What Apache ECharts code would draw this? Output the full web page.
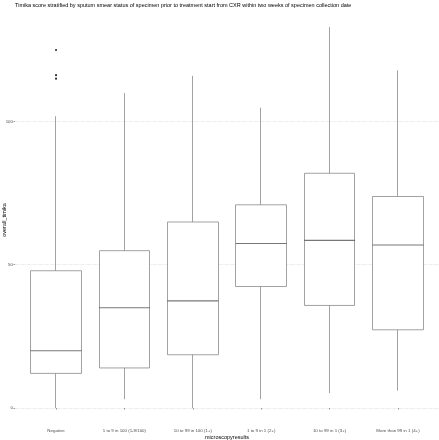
<!DOCTYPE html>
<html>
<head>
<meta charset="utf-8">
<script src="https://cdn.jsdelivr.net/npm/echarts@6/dist/echarts.min.js"></script>
<style>
    html, body { margin: 0; padding: 0; background: #fff; }
    .box { width: 439px; height: 440px; }
</style>
</head>
<body>
<div class="box"></div>
<script>
// 数据
var categories = ['Negative', '1 to 9 in 100 (1-9/100)', '10 to 99 in 100 (1+)', '1 to 9 in 1 (2+)', '10 to 99 in 1 (3+)', 'More than 99 in 1 (4+)'];
var whiskerLow = [0, 3.1, 0, 3.1, 5.2, 6.1];
var q1 = [12.1, 14.0, 18.6, 42.4, 35.8, 27.3];
var median = [20.0, 35.0, 37.4, 57.4, 58.5, 56.9];
var q3 = [47.9, 54.9, 64.9, 70.9, 81.9, 73.8];
var whiskerHigh = [101.8, 109.9, 115.9, 104.8, 132.9, 117.8];
var outlierCat = [0, 0, 0];
var outlierVal = [124.9, 116.1, 114.9];
var yTicks = [0, 50, 100];

(function () {
    var myChart = echarts.init(document.querySelector('.box'));
    var font = 'Liberation Sans';
    // 类目位置 1..6
    var pos = categories.map(function (c, i) { return i + 1; });
    // 箱体用 candlestick 画（没有须线端帽）: [x, open, close, low, high]
    var boxData = categories.map(function (c, i) {
        return [pos[i], q1[i], q3[i], whiskerLow[i], whiskerHigh[i]];
    });
    var medData = categories.map(function (c, i) { return [pos[i], median[i]]; });
    var outData = outlierCat.map(function (c, i) { return [pos[c], outlierVal[i]]; });

    var option = {
        animation: false,
        title: {
            text: 'Timika score stratified by sputum smear status of specimen prior to treatment start from CXR within two weeks of specimen collection date',
            left: 15,
            top: 2,
            padding: 0,
            textStyle: { fontFamily: font, fontSize: 5.5, fontWeight: 'normal', color: '#000' }
        },
        // 不让 v6 自动收缩网格
        grid: { left: 15, right: 0, top: 13, bottom: 13, outerBoundsMode: 'none' },
        xAxis: {
            type: 'value',
            min: 0.4,
            max: 6.6,
            name: 'microscopyresults',
            nameLocation: 'middle',
            nameGap: 7,
            nameMoveOverlap: false,
            nameTextStyle: { fontFamily: font, fontSize: 5.5, color: '#000' },
            axisLine: { show: false },
            axisTick: { show: true, length: 1.5, customValues: pos, lineStyle: { color: '#333', width: 0.5 } },
            axisLabel: {
                customValues: pos,
                margin: 2,
                fontFamily: font, fontSize: 4.4, color: '#4d4d4d',
                formatter: function (v) { return categories[Math.round(v) - 1]; }
            },
            splitLine: { show: false }
        },
        yAxis: {
            type: 'value',
            min: -6.6,
            max: 137.8,
            name: 'overall_timika',
            nameLocation: 'middle',
            nameRotate: 90,
            nameGap: 8,
            nameMoveOverlap: false,
            nameTextStyle: { fontFamily: font, fontSize: 5.5, color: '#000' },
            axisLine: { show: false },
            axisTick: { show: true, length: 1.5, customValues: yTicks, lineStyle: { color: '#333', width: 0.5 } },
            axisLabel: { customValues: yTicks, margin: 2, fontFamily: font, fontSize: 4.4, color: '#4d4d4d' },
            splitLine: { show: true, lineStyle: { color: '#cfcfcf', width: 0.6, type: 'dotted' } }
        },
        series: [
            {
                name: 'box',
                type: 'candlestick',
                data: boxData,
                barWidth: 51,
                itemStyle: {
                    color: '#fff', color0: '#fff',
                    borderColor: '#8a8a8a', borderColor0: '#8a8a8a',
                    borderWidth: 0.8
                },
                emphasis: { disabled: true }
            },
            {
                // 中位线
                name: 'median',
                type: 'scatter',
                data: medData,
                symbol: 'rect',
                symbolSize: [51, 1.1],
                itemStyle: { color: '#555' },
                emphasis: { disabled: true }
            },
            {
                name: 'outlier',
                type: 'scatter',
                data: outData,
                symbolSize: 2.2,
                itemStyle: { color: '#000' },
                emphasis: { disabled: true }
            }
        ]
    };
    myChart.setOption(option);
})();
</script>
</body>
</html>
